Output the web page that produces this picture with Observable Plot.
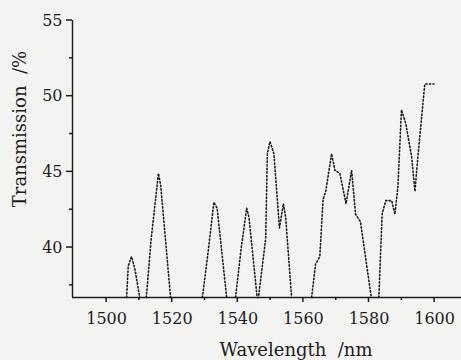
<!DOCTYPE html>
<html>
<head>
<meta charset="utf-8">
<script src="https://cdn.jsdelivr.net/npm/d3@7"></script>
<script src="https://cdn.jsdelivr.net/npm/@observablehq/plot@0.6"></script>
<style>
  html, body { margin: 0; padding: 0; background: #f3f3f1; }
  #chart svg { display: block; }
</style>
</head>
<body>
<div id="chart"></div>
<script>
// Wavelength (nm); null transmission breaks the trace where it drops below the axis
const wavelength = [
  1506.1, 1506.6, 1507.6, 1508.6, 1510.1, 1511,
  1512.1, 1513.6, 1515.8, 1516.5, 1519.5, 1524,
  1529.2, 1531.0, 1532.7, 1533.7, 1536.6, 1538,
  1539.3, 1541.0, 1542.7, 1543.4, 1545.9, 1546.3, 1548.5, 1549.0, 1549.8, 1551.0, 1552.7, 1553.9, 1554.6, 1556.4, 1559,
  1562.5, 1563.7, 1565.0, 1566.0, 1566.8, 1568.6, 1569.6, 1571.1, 1573.0, 1574.7, 1575.9, 1577.4, 1580.7, 1582,
  1583.0, 1584.0, 1585.1, 1586.9, 1587.9, 1588.8, 1589.9, 1591.2, 1593.0, 1594.0, 1594.9, 1597.0, 1599.8
];
const transmission = [
  36.7, 38.8, 39.4, 38.6, 36.7, null,
  36.7, 40.6, 44.9, 44.1, 36.7, null,
  36.7, 39.8, 43.0, 42.6, 36.7, null,
  36.7, 39.9, 42.6, 42.0, 36.7, 36.7, 40.6, 46.2, 47.0, 46.2, 41.3, 42.9, 42.0, 36.7, null,
  36.7, 38.9, 39.4, 43.2, 43.7, 46.2, 45.1, 44.9, 42.9, 45.1, 42.2, 41.7, 36.7, null,
  36.7, 42.2, 43.1, 43.1, 42.2, 44.0, 49.1, 48.2, 46.0, 43.7, 46.0, 50.8, 50.8
];
const xDomain = [1489.6, 1608.2];
const yDomain = [36.7, 55];
const xMajorTicks = [1500, 1520, 1540, 1560, 1580, 1600];
const xMinorTicks = [1510, 1530, 1550, 1570, 1590];
const yMajorTicks = [40, 45, 50, 55];
const yMinorTicks = [37.5, 42.5, 47.5, 52.5];
const xLabel = "Wavelength\u00a0\u00a0/nm";
const yLabel = "Transmission\u00a0\u00a0/%";

const W = 461, H = 360, mL = 72, mR = 0, mT = 20, mB = 63;
const pxPerX = (W - mL - mR) / (xDomain[1] - xDomain[0]);
const pxPerY = (H - mT - mB) / (yDomain[1] - yDomain[0]);
const xu = (px) => px / pxPerX; // pixels -> x data units
const yu = (px) => px / pxPerY; // pixels -> y data units
const data = wavelength.map((w, i) => ({w, t: transmission[i]}));
const ink = "#1c1c1c";

// outward tick marks drawn as small filled rects hanging off the axes
const xTick = (ticks, len) => Plot.rect(ticks, {
  x1: d => d - xu(0.75), x2: d => d + xu(0.75),
  y1: yDomain[0], y2: yDomain[0] - yu(len), fill: ink
});
const yTick = (ticks, len) => Plot.rect(ticks, {
  y1: d => d - yu(0.75), y2: d => d + yu(0.75),
  x1: xDomain[0], x2: xDomain[0] - xu(len), fill: ink
});

const plot = Plot.plot({
  width: W,
  height: H,
  marginLeft: mL,
  marginRight: mR,
  marginTop: mT,
  marginBottom: mB,
  style: {background: "transparent", fontFamily: "DejaVu Serif", fontSize: "16px", color: ink},
  x: {domain: xDomain, axis: null},
  y: {domain: yDomain, axis: null},
  marks: [
    Plot.ruleX([xDomain[0]], {y1: yDomain[0], y2: yDomain[1], stroke: ink, strokeWidth: 1.4}),
    Plot.ruleY([yDomain[0]], {stroke: ink, strokeWidth: 1.4}),
    xTick(xMajorTicks, 5),
    xTick(xMinorTicks, 3),
    yTick(yMajorTicks, 6),
    yTick(yMinorTicks, 3),
    // tick labels
    Plot.text(xMajorTicks, {x: d => d, frameAnchor: "bottom", lineAnchor: "top", dy: 15, text: d => d3.format("d")(d), fill: ink, fontSize: 16}),
    Plot.text(yMajorTicks, {y: d => d, frameAnchor: "left", textAnchor: "end", dx: -10, text: d => d3.format("d")(d), fill: ink, fontSize: 16}),
    // axis titles
    Plot.text([xLabel], {frameAnchor: "bottom", lineAnchor: "middle", dx: 29, dy: 53, text: d => d, fill: ink, fontSize: 18}),
    Plot.text([yLabel], {frameAnchor: "left", textAnchor: "middle", lineAnchor: "middle", dx: -52, dy: -30, rotate: -90, text: d => d, fill: ink, fontSize: 18}),
    Plot.line(data, {x: "w", y: "t", stroke: ink, strokeWidth: 1.6, strokeDasharray: "1.4 2.2"})
  ]
});
document.getElementById("chart").appendChild(plot);
</script>
</body>
</html>
